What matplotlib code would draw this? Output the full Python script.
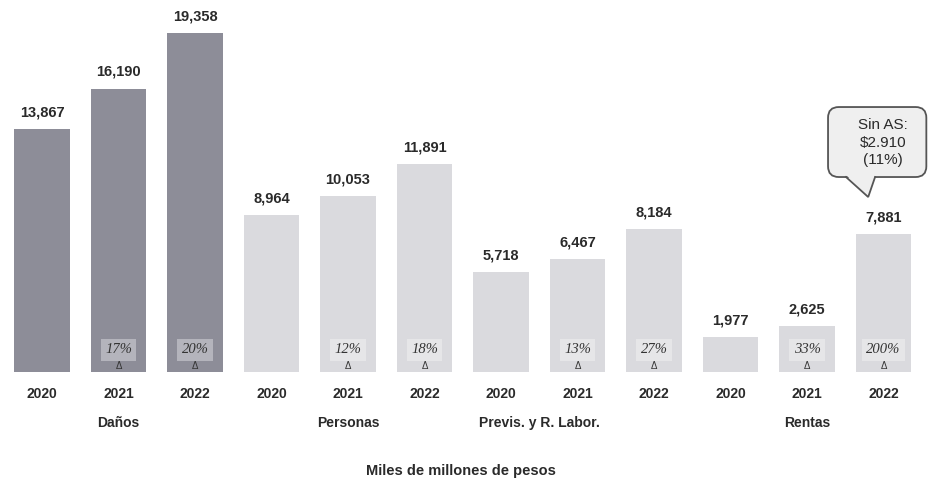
import matplotlib.pyplot as plt
import numpy as np
from matplotlib.patches import FancyBboxPatch, Polygon

plt.rcParams['font.family'] = ['Liberation Sans', 'DejaVu Sans']

# data
years = ['2020', '2021', '2022'] * 4
groups = ['Daños', 'Personas', 'Previs. y R. Labor.', 'Rentas']
values = [13867, 16190, 19358, 8964, 10053, 11891, 5718, 6467, 8184, 1977, 2625, 7881]
growth = ['', '17%', '20%', '', '12%', '18%', '', '13%', '27%', '', '33%', '200%']
group_pos = [1, 4, 6.5, 10]
note = 'Sin AS:\n$2.910\n(11%)'

fig = plt.figure(figsize=(9.32, 4.86), dpi=100)
# baseline sits 114 px above the bottom of the figure
ax = fig.add_axes([0, 114 / 486, 1, 372 / 486])

x = np.arange(len(values))
colors = ['#8d8d98'] * 3 + ['#dadade'] * 9
ax.bar(x, values, width=0.73, color=colors, edgecolor='none')

ax.set_xlim(-0.549, 11.634)
ax.set_ylim(0, 21260)
ax.axis('off')

# value labels above the bars
for xi, v in zip(x, values):
    ax.annotate(f'{v:,}', (xi, v), xytext=(0, 7), textcoords='offset points',
                ha='center', va='bottom', fontsize=10.5, weight='bold', color='#2a2a2a')

# growth boxes and delta marks
for xi, g in zip(x, growth):
    if not g:
        continue
    box_fc = '#b4b4bc' if xi < 3 else '#e6e6e8'
    ax.annotate(g, (xi, 0), xytext=(0, 16), textcoords='offset points',
                ha='center', va='center', fontsize=10.5, style='italic',
                family=['Liberation Serif', 'DejaVu Serif'], color='#333333',
                bbox=dict(boxstyle='square,pad=0.3', fc=box_fc, ec='none'))
    ax.annotate('Δ', (xi, 0), xytext=(0, 4), textcoords='offset points',
                ha='center', va='center', fontsize=7, color='#333333')

# year labels under the bars
trans = ax.get_xaxis_transform()
for xi, yr in zip(x, years):
    ax.text(xi, -0.058, yr, transform=trans, ha='center', va='center',
            fontsize=10, weight='bold', color='#2a2a2a', clip_on=False)

for gx, gname in zip(group_pos, groups):
    ax.text(gx, -0.138, gname, transform=trans, ha='center', va='center',
            fontsize=10, weight='bold', color='#2a2a2a', clip_on=False)

fig.text(0.495, 0.016, 'Miles de millones de pesos', ha='center', va='bottom',
         fontsize=10.5, weight='bold', color='#2a2a2a')

# speech bubble over the last bar (x unit = 76.5 px, 1 px = 57.1 y units)
bx0, bx1, by0, by1 = 10.275, 11.56, 11143, 15143
bubble = FancyBboxPatch((bx0, by0), bx1 - bx0, by1 - by0,
                        boxstyle='round,pad=0,rounding_size=0.14',
                        mutation_aspect=4370, fc='#efefef', ec='#555555',
                        lw=1.3, clip_on=False, zorder=3)
ax.add_patch(bubble)
tail = [(10.51, by0 + 120), (10.80, 10000), (10.89, by0 + 120)]
ax.add_patch(Polygon(tail, closed=True, fc='#efefef', ec='none', zorder=4))
ax.plot([10.51, 10.80, 10.89], [by0, 10000, by0], color='#555555', lw=1.3,
        zorder=5, solid_joinstyle='miter')
ax.text(10.99, 13100, note, ha='center', va='center', fontsize=11,
        color='#2a2a2a', linespacing=1.3, zorder=6)

fig.savefig('out.png', dpi=100)
